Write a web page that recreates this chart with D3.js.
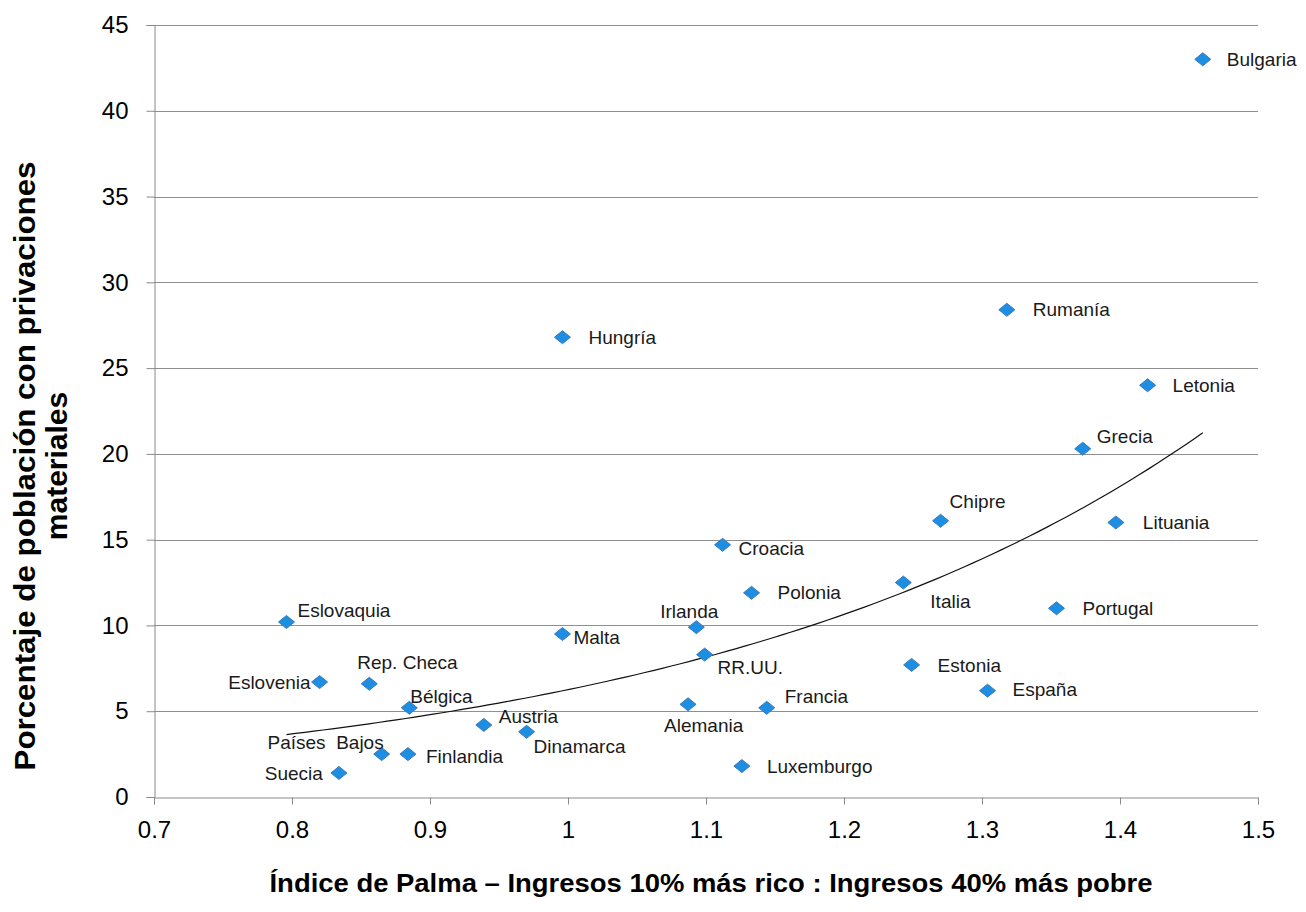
<!DOCTYPE html>
<html>
<head>
<meta charset="utf-8">
<script src="https://cdn.jsdelivr.net/npm/d3@7"></script>
<style>
  body { margin: 0; background: #fff; }
  text { font-family: "Liberation Sans", Arial, sans-serif; }
</style>
</head>
<body>
<div class="canvas"></div>
<script>
const countries = ["Bulgaria", "Rumanía", "Hungría", "Letonia", "Grecia", "Chipre", "Lituania",
  "Croacia", "Italia", "Polonia", "Portugal", "Eslovaquia", "Irlanda", "Malta", "RR.UU.",
  "Estonia", "Eslovenia", "Rep. Checa", "España", "Alemania", "Francia", "Bélgica", "Austria",
  "Dinamarca", "Países  Bajos", "Finlandia", "Suecia", "Luxemburgo"];
const palma = [1.460, 1.318, 0.996, 1.420, 1.373, 1.270, 1.397,
  1.112, 1.243, 1.133, 1.354, 0.796, 1.093, 0.996, 1.099,
  1.249, 0.820, 0.856, 1.304, 1.087, 1.144, 0.885, 0.939,
  0.970, 0.865, 0.884, 0.834, 1.126];
const deprivation = [43.0, 28.4, 26.8, 24.0, 20.3, 16.1, 16.0,
  14.7, 12.5, 11.9, 11.0, 10.2, 9.9, 9.5, 8.3,
  7.7, 6.7, 6.6, 6.2, 5.4, 5.2, 5.2, 4.2,
  3.8, 2.5, 2.5, 1.4, 1.8];
const xTicks = [0.7, 0.8, 0.9, 1, 1.1, 1.2, 1.3, 1.4, 1.5];
const yTicks = [0, 5, 10, 15, 20, 25, 30, 35, 40, 45];

// where each label sits relative to its marker: [anchor, dx, dy]
const labelPlace = {
  "Bulgaria": ["start", 24, 0], "Rumanía": ["start", 26, 0], "Hungría": ["start", 26, 0],
  "Letonia": ["start", 25, 0], "Grecia": ["start", 14, -12], "Chipre": ["start", 9, -19],
  "Lituania": ["start", 27, 0], "Croacia": ["start", 16, 4], "Italia": ["start", 27, 19],
  "Polonia": ["start", 26, 0], "Portugal": ["start", 26, 0], "Eslovaquia": ["start", 11, -12],
  "Irlanda": ["end", 22, -16], "Malta": ["start", 11, 3], "RR.UU.": ["start", 13, 13],
  "Estonia": ["start", 26, 0], "Eslovenia": ["end", -9, 0], "Rep. Checa": ["start", -12, -21],
  "España": ["start", 25, -1], "Alemania": ["start", -24, 21], "Francia": ["start", 18, -11],
  "Bélgica": ["start", 1, -11], "Austria": ["start", 15, -9], "Dinamarca": ["start", 7, 15],
  "Países  Bajos": ["end", 2, -12], "Finlandia": ["start", 18, 2], "Suecia": ["end", -16, 0],
  "Luxemburgo": ["start", 25, 0]
};

const data = countries.map((c, i) => ({ name: c, x: palma[i], y: deprivation[i] }));

const width = 1306;
const height = 912;
const marginLeft = 154;
const marginRight = 48;
const marginTop = 25;
const marginBottom = 115;

const x = d3.scaleLinear()
  .domain([0.7, 1.5])
  .range([marginLeft, width - marginRight]);

const y = d3.scaleLinear()
  .domain([0, 45])
  .range([height - marginBottom, marginTop]);

const svg = d3.select(".canvas").append("svg")
  .attr("width", width)
  .attr("height", height)
  .style("background", "#fff");

// horizontal gridlines
svg.append("g")
  .selectAll("line")
  .data(yTicks.filter(d => d > 0))
  .join("line")
    .attr("x1", x(0.7))
    .attr("x2", x(1.5))
    .attr("y1", d => Math.round(y(d)) + 0.5)
    .attr("y2", d => Math.round(y(d)) + 0.5)
    .attr("stroke", "#8f8f8f")
    .attr("stroke-width", 1);

const yAxis = d3.axisLeft(y).tickValues(yTicks).tickSize(8).tickPadding(18).tickFormat(d3.format("d"));
const xAxis = d3.axisBottom(x).tickValues(xTicks).tickSize(7).tickPadding(16).tickFormat(d => String(d));

const gy = svg.append("g")
  .attr("transform", translate(Math.round(x(0.7)) + 0.5, 0))
  .call(yAxis);

const gx = svg.append("g")
  .attr("transform", translate(0, Math.round(y(0)) + 0.5))
  .call(xAxis);

[gx, gy].forEach(g => {
  g.select(".domain").attr("stroke", "#8a8a8a");
  g.selectAll(".tick line").attr("stroke", "#8a8a8a");
  g.selectAll(".tick text")
    .attr("fill", "#000")
    .style("font-family", '"Liberation Sans", Arial, sans-serif')
    .style("font-size", "24px");
});

// exponential trendline, least squares on ln(y) like the spreadsheet does
const mx = d3.mean(data, d => d.x);
const my = d3.mean(data, d => Math.log(d.y));
const b = d3.sum(data, d => (d.x - mx) * (Math.log(d.y) - my)) / d3.sum(data, d => (d.x - mx) ** 2);
const a = Math.exp(my - b * mx);
const xExt = d3.extent(data, d => d.x);
const trend = d3.range(0, 101).map(i => {
  const xv = xExt[0] + (xExt[1] - xExt[0]) * i / 100;
  return [xv, a * Math.exp(b * xv)];
});

svg.append("path")
  .datum(trend)
  .attr("fill", "none")
  .attr("stroke", "#111")
  .attr("stroke-width", 1.2)
  .attr("d", d3.line().x(d => x(d[0])).y(d => y(d[1])));

// diamond markers
svg.append("g")
  .selectAll("path")
  .data(data)
  .join("path")
    .attr("d", d => {
      const cx = x(d.x), cy = y(d.y);
      return "M" + (cx - 8) + "," + cy + "L" + cx + "," + (cy - 6.5) + "L" + (cx + 8) + "," + cy + "L" + cx + "," + (cy + 6.5) + "Z";
    })
    .attr("fill", "#1c8fe3")
    .attr("stroke", "#3c78bd")
    .attr("stroke-width", 1);

// country labels
svg.append("g")
  .selectAll("text")
  .data(data)
  .join("text")
    .attr("x", d => x(d.x) + labelPlace[d.name][1])
    .attr("y", d => y(d.y) + labelPlace[d.name][2])
    .attr("dy", "0.35em")
    .attr("text-anchor", d => labelPlace[d.name][0])
    .attr("fill", "#1a1a1a")
    .style("font-size", "19px")
    .style("white-space", "pre")
    .text(d => d.name);

// axis titles
svg.append("text")
  .attr("x", 711)
  .attr("y", 892)
  .attr("text-anchor", "middle")
  .attr("textLength", 883)
  .attr("lengthAdjust", "spacingAndGlyphs")
  .style("font-size", "25px")
  .style("font-weight", "bold")
  .text("Índice de Palma – Ingresos 10% más rico : Ingresos 40% más pobre");

const yTitle = svg.append("text")
  .attr("transform", translate(0, 466) + " rotate(-90)")
  .attr("text-anchor", "middle")
  .style("font-size", "30px")
  .style("font-weight", "bold");

yTitle.append("tspan").attr("x", 0).attr("y", 35).attr("textLength", 609)
  .attr("lengthAdjust", "spacingAndGlyphs")
  .text("Porcentaje de población con privaciones");
yTitle.append("tspan").attr("x", 0).attr("y", 67).text("materiales");

function translate(x, y) {
  return "translate(" + x + ", " + y + ")";
}
</script>
</body>
</html>
